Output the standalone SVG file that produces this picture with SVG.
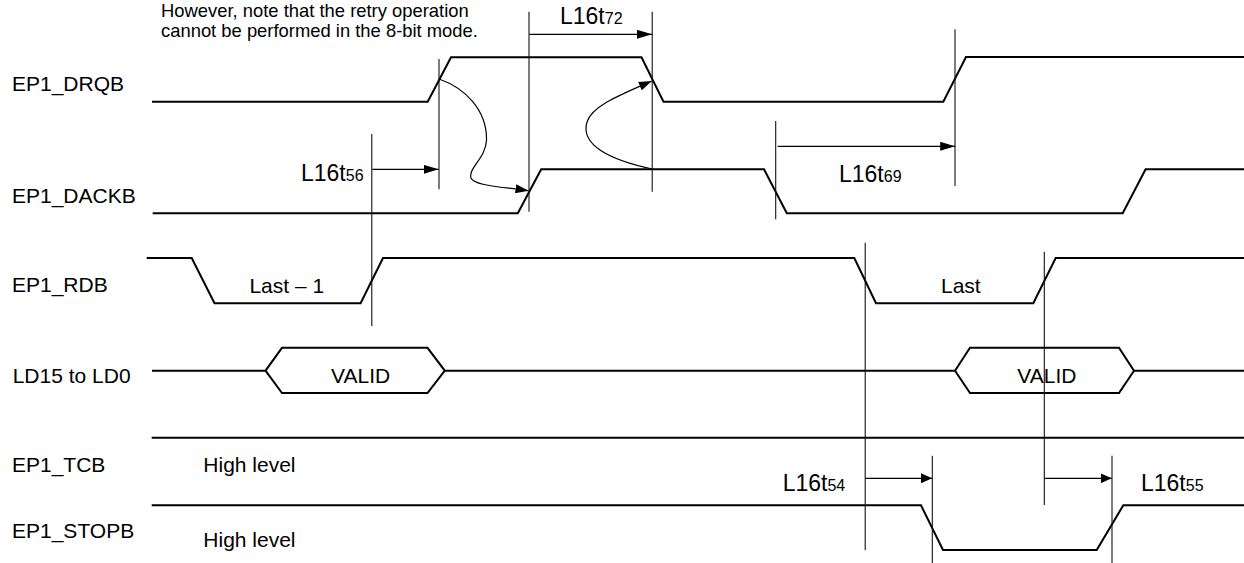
<svg xmlns="http://www.w3.org/2000/svg" width="1244" height="563" viewBox="0 0 1244 563">
<style>
  text { font-family: "Liberation Sans", Arial, Helvetica, sans-serif; fill: #000; }
  .lbl { font-size: 21px; }
  .note { font-size: 18.4px; }
  .tm { font-size: 23px; }
  .sub { font-size: 16px; }
  .sig { fill: none; stroke: #000; stroke-width: 2; stroke-linejoin: miter; }
  .ref { fill: none; stroke: #111; stroke-width: 1.1; }
  .arr { fill: none; stroke: #000; stroke-width: 1.2; }
</style>
<defs>
  <marker id="ah" markerUnits="userSpaceOnUse" markerWidth="15" markerHeight="9" refX="15" refY="4.5" orient="auto">
    <path d="M0,0 L15,4.5 L0,9 z" fill="#000"/>
  </marker>
  <marker id="ahs" markerUnits="userSpaceOnUse" markerWidth="11" markerHeight="10" refX="11" refY="5" orient="auto">
    <path d="M0,0 L11,5 L0,10 z" fill="#000"/>
  </marker>
  <marker id="ahc" markerUnits="userSpaceOnUse" markerWidth="13" markerHeight="9" refX="13" refY="4.5" orient="auto">
    <path d="M0,0 L13,4.5 L0,9 z" fill="#000"/>
  </marker>
</defs>
<rect width="1244" height="563" fill="#fff"/>

<g id="note">
  <text class="note" x="161" y="16.5">However, note that the retry operation</text>
  <text class="note" x="161" y="37">cannot be performed in the 8-bit mode.</text>
</g>

<g id="EP1_DRQB">
  <text class="lbl" x="12" y="90.7">EP1_DRQB</text>
  <path class="sig" d="M152,101.7 H427.7 L451,57.3 H641.5 L663.5,101.7 H943.3 L966,57 H1244"/>
</g>

<g id="EP1_DACKB">
  <text class="lbl" x="12" y="203.3">EP1_DACKB</text>
  <path class="sig" d="M152.7,213.3 H517.8 L541.2,169.3 H764 L786.8,213.3 H1122.7 L1145.6,169.3 H1244"/>
</g>

<g id="EP1_RDB">
  <text class="lbl" x="12" y="292.3">EP1_RDB</text>
  <path class="sig" d="M146.7,258 H191.7 L214.5,303.3 H360.6 L383,258 H854.3 L876,303.3 H1033.3 L1055.7,258 H1244"/>
  <text class="lbl" x="249.4" y="293">Last – 1</text>
  <text class="lbl" x="941" y="293.3">Last</text>
</g>

<g id="LD15_to_LD0">
  <text class="lbl" x="12.7" y="383.3">LD15 to LD0</text>
  <path class="sig" d="M152,370.7 H265.5 L282,347.8 H427.5 L444.8,370.7 H955 L970,347.8 H1119 L1134,370.7 H1244"/>
  <path class="sig" d="M265.5,370.7 L282,393 H427.5 L444.8,370.7"/>
  <path class="sig" d="M955,370.7 L970,393 H1119 L1134,370.7"/>
  <text class="lbl" x="331" y="383.3">VALID</text>
  <text class="lbl" x="1017.3" y="383.3">VALID</text>
</g>

<g id="EP1_TCB">
  <text class="lbl" x="12" y="471.7">EP1_TCB</text>
  <path class="sig" d="M151.7,437.7 H1244"/>
  <text class="lbl" x="203.3" y="471.7">High level</text>
</g>

<g id="EP1_STOPB">
  <text class="lbl" x="12" y="538.3">EP1_STOPB</text>
  <path class="sig" d="M151.7,505.3 H921 L943,550 H1096.7 L1123.3,505.3 H1244"/>
  <text class="lbl" x="203.3" y="546.7">High level</text>
</g>

<g id="connectors">
  <!-- reference lines -->
  <path class="ref" d="M371.8,134 V326"/>
  <path class="ref" d="M439,59 V189.3"/>
  <path class="ref" d="M529,11.7 V211.7"/>
  <path class="ref" d="M652.2,11.7 V191.7"/>
  <path class="ref" d="M775.7,121 V219.3"/>
  <path class="ref" d="M955,29.3 V186"/>
  <path class="ref" d="M865.2,242.7 V550"/>
  <path class="ref" d="M1044.3,251.7 V505"/>
  <path class="ref" d="M932.3,455.7 V563"/>
  <path class="ref" d="M1112,455.7 V563"/>

  <!-- timing arrows -->
  <path class="arr" d="M372.3,169.3 H438.6" marker-end="url(#ah)"/>
  <path class="arr" d="M529.5,34.3 H652" marker-end="url(#ah)"/>
  <path class="arr" d="M777.7,146.3 H955.2" marker-end="url(#ah)"/>
  <path class="arr" d="M865.5,478.3 H932" marker-end="url(#ahs)"/>
  <path class="arr" d="M1044.5,478.3 H1111.7" marker-end="url(#ahs)"/>

  <!-- causal curves -->
  <path class="arr" d="M439,79 C465,88 487,110 486.5,140 C486,158 468,168 471,178 C474,186 505,187 528.5,190.8" marker-end="url(#ahc)"/>
  <path class="arr" d="M652.3,169 C610,160 580,145 587,122 C592,106 620,95 651.8,81" marker-end="url(#ahc)"/>

  <!-- timing labels -->
  <text class="tm" x="301" y="181">L16t<tspan class="sub">56</tspan></text>
  <text class="tm" x="560" y="24">L16t<tspan class="sub">72</tspan></text>
  <text class="tm" x="839" y="181.7">L16t<tspan class="sub">69</tspan></text>
  <text class="tm" x="782.7" y="490.7">L16t<tspan class="sub">54</tspan></text>
  <text class="tm" x="1141" y="490.7">L16t<tspan class="sub">55</tspan></text>
</g>
</svg>
